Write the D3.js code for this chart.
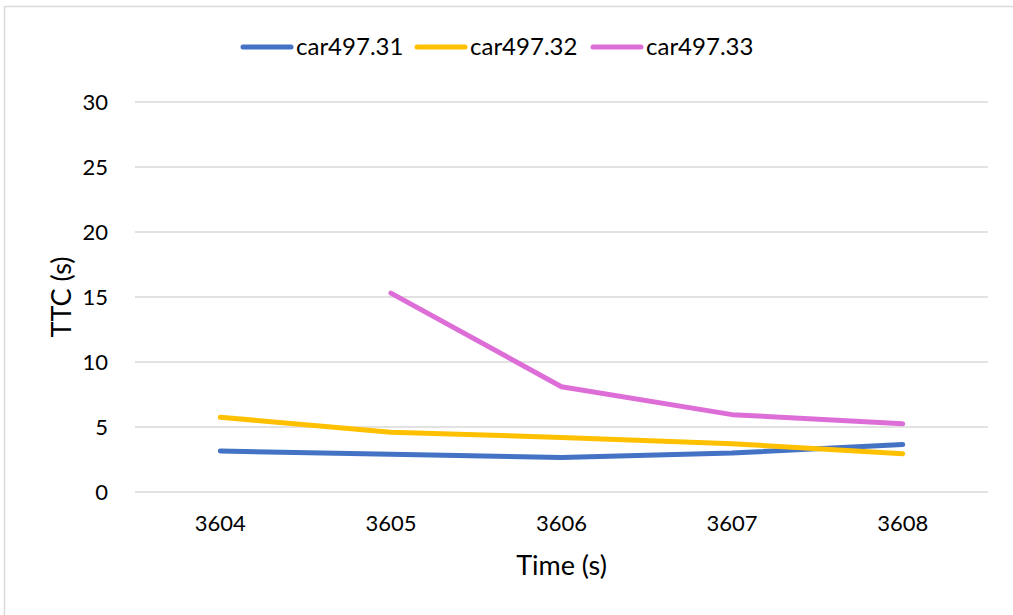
<!DOCTYPE html>
<html>
<head>
<meta charset="utf-8">
<script src="https://cdn.jsdelivr.net/npm/d3@7"></script>
<style>
  body { margin: 0; background: #fff; }
  text { font-family: Lato, "Open Sans", sans-serif; fill: #000; }
</style>
</head>
<body>
<div class="plot"></div>
<script>
const times = [3604, 3605, 3606, 3607, 3608];
const car31 = [3.15, 2.9, 2.65, 3.0, 3.65];
const car32 = [5.75, 4.6, 4.2, 3.72, 2.95];
const car33 = [null, 15.3, 8.1, 5.95, 5.25];
const seriesNames = ["car497.31", "car497.32", "car497.33"];
const seriesColors = ["#4472C4", "#FFC000", "#DD6ED8"];
const yTicks = [0, 5, 10, 15, 20, 25, 30];

const W = 1013, H = 615;
const plot = {left: 135, right: 988, top: 102, bottom: 492};

const svg = d3.select(".plot")
  .append("svg")
    .attr("width", W)
    .attr("height", H);

// chart border
svg.append("rect")
  .attr("x", 4.5).attr("y", 6.5)
  .attr("width", W + 10).attr("height", H + 10)
  .attr("fill", "none")
  .attr("stroke", "#d9d9d9")
  .attr("stroke-width", 1.5);

const x = d3.scaleBand().domain(times).range([plot.left, plot.right]);
const y = d3.scaleLinear().domain([0, 30]).range([plot.bottom, plot.top]);

// gridlines
svg.append("g")
  .selectAll("line")
  .data(yTicks)
  .enter()
  .append("line")
    .attr("x1", plot.left).attr("x2", plot.right)
    .attr("y1", d => y(d)).attr("y2", d => y(d))
    .attr("stroke", "#d9d9d9")
    .attr("stroke-width", 1.5);

// y axis labels
const yAxis = d3.axisLeft(y).tickValues(yTicks).tickSize(0).tickPadding(27);
svg.append("g")
  .attr("transform", "translate(" + plot.left + ",0)")
  .call(yAxis)
  .call(g => g.select(".domain").remove())
  .selectAll("text")
    .style("font-size", "22px")
    .style("font-family", "Lato, sans-serif")
    .attr("fill", "#000");

// x axis labels
const xAxis = d3.axisBottom(x).tickSize(0).tickPadding(23);
svg.append("g")
  .attr("transform", "translate(0," + plot.bottom + ")")
  .call(xAxis)
  .call(g => g.select(".domain").remove())
  .selectAll("text")
    .style("font-size", "22px")
    .style("font-family", "Lato, sans-serif")
    .attr("fill", "#000");

// axis titles
svg.append("text")
  .attr("x", (plot.left + plot.right) / 2)
  .attr("y", 575)
  .attr("text-anchor", "middle")
  .style("font-size", "27px")
  .text("Time (s)");

svg.append("text")
  .attr("transform", "translate(71," + (plot.top + plot.bottom) / 2 + ") rotate(-90)")
  .attr("text-anchor", "middle")
  .style("font-size", "27px")
  .text("TTC (s)");

// lines
const allSeries = [car31, car32, car33];
const line = d3.line()
  .defined(d => d.v != null)
  .x(d => x(d.t) + x.bandwidth() / 2)
  .y(d => y(d.v));

allSeries.forEach((vals, i) => {
  svg.append("path")
    .datum(times.map((t, j) => ({t: t, v: vals[j]})))
    .attr("d", line)
    .attr("fill", "none")
    .attr("stroke", seriesColors[i])
    .attr("stroke-width", 5)
    .attr("stroke-linejoin", "round")
    .attr("stroke-linecap", "round");
});

// legend
const legendX = [243, 417, 593];
const legend = svg.append("g")
  .selectAll("g")
  .data(seriesNames)
  .enter()
  .append("g")
    .attr("transform", (d, i) => "translate(" + legendX[i] + ",47)");

legend.append("line")
  .attr("x1", 0).attr("x2", 48)
  .attr("stroke", (d, i) => seriesColors[i])
  .attr("stroke-width", 5)
  .attr("stroke-linecap", "round");

legend.append("text")
  .attr("x", 53)
  .attr("y", 8)
  .style("font-size", "24px")
  .text(d => d);
</script>
</body>
</html>
